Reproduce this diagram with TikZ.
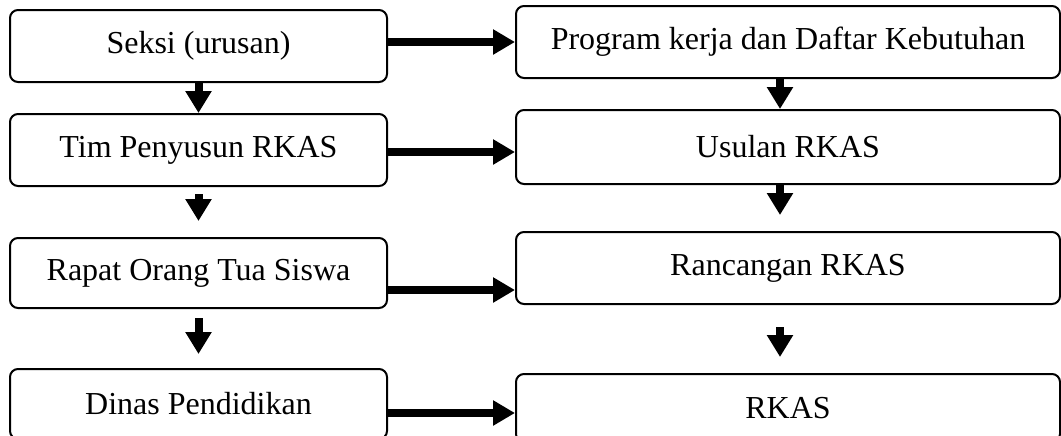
\documentclass[tikz,border=0pt]{standalone}
\usepackage{fontspec}
\setmainfont{Liberation Serif}
\usetikzlibrary{arrows.meta, positioning}

\begin{document}
\begin{tikzpicture}[
    x=0.5pt, y=-0.5pt,
    stepbox/.style={rectangle, rounded corners=4pt, draw=black, fill=white,
                    line width=1pt, align=center, inner sep=2pt,
                    font=\fontsize{16}{19}\selectfont},
    leftbox/.style={stepbox, minimum width=188.5pt, minimum height=#1},
    rightbox/.style={stepbox, minimum width=272pt, minimum height=#1},
    harrow/.style={-{Triangle[length=11pt, width=12pt]}, line width=3.8pt},
    varrow/.style={-{Triangle[length=11pt, width=12.5pt]}, line width=4pt}
  ]
    \useasboundingbox (0,0) rectangle (1061,435);

    % left column
    \node[leftbox=36pt] (seksi) at (198.5,46) {Seksi (urusan)};
    \node[leftbox=36pt, below=15pt of seksi] (tim) {Tim Penyusun RKAS};
    \node[leftbox=35pt, below=25pt of tim] (rapat) {Rapat Orang Tua Siswa};
    \node[leftbox=35pt, below=29.5pt of rapat] (dinas) {Dinas Pendidikan};

    % right column
    \node[rightbox=36pt] (program) at (788,42) {Program kerja dan Daftar Kebutuhan};
    \node[rightbox=37pt, below=15pt of program] (usulan) {Usulan RKAS};
    \node[rightbox=36pt, below=23pt of usulan] (rancangan) {Rancangan RKAS};
    \node[rightbox=34pt, below=34pt of rancangan] (rkas) {RKAS};

    \draw[varrow] (seksi) -- (tim);
    \draw[varrow, shorten <=3.5pt, shorten >=8pt] (tim) -- (rapat);
    \draw[varrow, shorten <=4.5pt, shorten >=7pt] (rapat) -- (dinas);

    \draw[varrow] ([xshift=-4pt]program.south) -- ([xshift=-4pt]usulan.north);
    \draw[varrow, shorten >=8pt] ([xshift=-4pt]usulan.south) -- ([xshift=-4pt]rancangan.north);
    \draw[varrow, shorten <=11pt, shorten >=8pt] ([xshift=-4pt]rancangan.south) -- ([xshift=-4pt]rkas.north);

    \draw[harrow] ([yshift=2pt]seksi.east) -- ([yshift=2pt]seksi.east -| program.west);
    \draw[harrow] ([yshift=-1pt]tim.east) -- ([yshift=-1pt]tim.east -| usulan.west);
    \draw[harrow] ([yshift=-8.5pt]rapat.east) -- ([yshift=-8.5pt]rapat.east -| rancangan.west);
    \draw[harrow] ([yshift=-4.5pt]dinas.east) -- ([yshift=-4.5pt]dinas.east -| rkas.west);
  \end{tikzpicture}
\end{document}
